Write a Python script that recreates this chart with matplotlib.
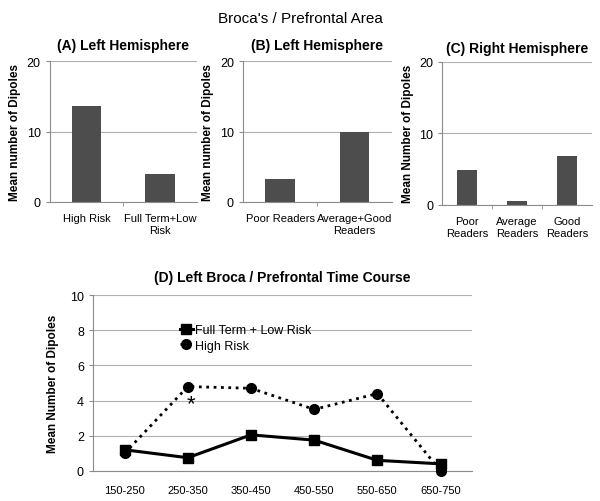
import numpy as np
import matplotlib.pyplot as plt

plt.rcParams['font.family'] = ['Liberation Sans', 'DejaVu Sans']

# panel A
a_labels = ["High Risk", "Full Term+Low\nRisk"]
a_vals = [13.7, 3.9]
# panel B
b_labels = ["Poor Readers", "Average+Good\nReaders"]
b_vals = [3.2, 10.0]
# panel C
c_labels = ["Poor\nReaders", "Average\nReaders", "Good\nReaders"]
c_vals = [4.9, 0.6, 6.8]
# panel D time course
windows = ["150-250", "250-350", "350-450", "450-550", "550-650", "650-750"]
full_term = [1.2, 0.75, 2.05, 1.75, 0.6, 0.4]
high_risk = [1.0, 4.8, 4.7, 3.5, 4.4, 0.0]

bar_col = '#4d4d4d'
grid_col = '#b0b0b0'
axis_col = '#8c8c8c'

fig = plt.figure(figsize=(6, 5.02), dpi=100)


def excel_axes(ax, ymax, step):
    for s in ['top', 'right']:
        ax.spines[s].set_visible(False)
    for s in ['left', 'bottom']:
        ax.spines[s].set_color(axis_col)
    ax.set_ylim(0, ymax)
    ax.set_yticks(np.arange(0, ymax + 0.1, step))
    ax.yaxis.grid(True, color=grid_col, linewidth=0.8)
    ax.set_axisbelow(True)
    ax.tick_params(axis='y', colors=axis_col, labelcolor='black', labelsize=9, length=3)
    ax.tick_params(axis='x', colors=axis_col, labelcolor='black', labelsize=8, length=3)


def bar_panel(rect, labels, vals, title, ylabel, width, pad):
    ax = fig.add_axes(rect)
    x = np.arange(len(vals))
    ax.bar(x, vals, width=width, color=bar_col)
    excel_axes(ax, 20, 10)
    ax.set_xlim(-0.5, len(vals) - 0.5)
    ax.set_xticks(x)
    ax.set_xticklabels(labels)
    ax.tick_params(axis='x', length=0, pad=8)
    ax.set_xticks(np.arange(0.5, len(vals) - 0.5, 1), minor=True)
    ax.tick_params(axis='x', which='minor', length=3, colors=axis_col)
    ax.set_title(title, fontsize=10, fontweight='bold', pad=pad)
    ax.set_ylabel(ylabel, fontsize=8.5, fontweight='bold', labelpad=4)
    return ax


bar_panel([0.083, 0.596, 0.245, 0.280], a_labels, a_vals,
          "(A) Left Hemisphere", "Mean number of Dipoles", 0.4, 9)
bar_panel([0.405, 0.596, 0.248, 0.280], b_labels, b_vals,
          "(B) Left Hemisphere", "Mean number of Dipoles", 0.4, 9)
bar_panel([0.737, 0.590, 0.250, 0.285], c_labels, c_vals,
          "(C) Right Hemisphere", "Mean Number of Dipoles", 0.4, 7)

fig.text(0.5, 0.962, "Broca's / Prefrontal Area", ha='center', va='center', fontsize=11)

# panel D
axd = fig.add_axes([0.155, 0.060, 0.632, 0.350])
x = np.arange(len(windows))
axd.plot(x, full_term, color='black', linewidth=2.2, marker='s', markersize=7,
         label="Full Term + Low Risk", clip_on=False, zorder=3)
axd.plot(x, high_risk, color='black', linewidth=2, linestyle=':', marker='o',
         markersize=7, label="High Risk", clip_on=False, zorder=3)
excel_axes(axd, 10, 2)
axd.set_xlim(-0.5, len(windows) - 0.5)
axd.set_xticks(x)
axd.set_xticklabels(windows)
axd.tick_params(axis='x', length=0, pad=10)
axd.set_title("(D) Left Broca / Prefrontal Time Course", fontsize=10, fontweight='bold', pad=10)
axd.set_ylabel("Mean Number of Dipoles", fontsize=8.5, fontweight='bold', labelpad=8)
axd.text(1.05, 3.8, "*", ha='center', va='center', fontsize=16)
axd.legend(loc='upper left', bbox_to_anchor=(0.2, 0.9), frameon=False, fontsize=9,
           handlelength=1.0, handletextpad=0.2, labelspacing=0.3)

fig.savefig("out.png", dpi=100)
